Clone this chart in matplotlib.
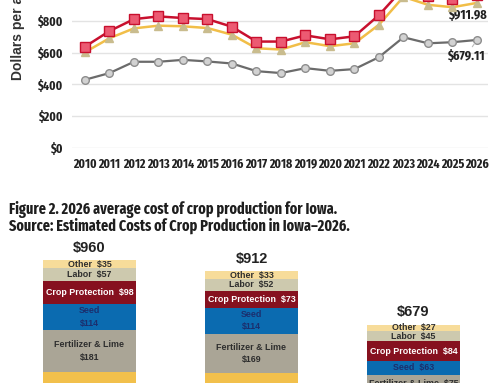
import matplotlib
matplotlib.use('Agg')
import matplotlib.pyplot as plt

# ======================
# DATA - FIGURE 1 (cost per acre, 2010-2026)
# ======================
years = list(range(2010, 2027))
corn_after_corn = [637, 735, 810, 827, 817, 810, 762, 669, 669, 708, 683, 702, 835, 1005, 955, 937, 960]
corn_after_soy = [602, 690, 752, 769, 765, 754, 712, 627, 619, 665, 640, 658, 775, 950, 900, 885, 911.98]
soy_after_corn = [429, 471, 542, 542, 554, 544, 531, 483, 471, 502, 485, 496, 571, 696, 658, 665, 679.11]
y_ticks = [0, 200, 400, 600, 800, 1000, 1200]

# ======================
# DATA - FIGURE 2 (2026 cost breakdown)
# ======================
crops = ['Corn following corn', 'Corn following soybeans', 'Soybeans following corn']
totals = [960, 912, 679]
land = [274, 274, 274]
machinery = [201, 197, 111]
fertilizer = [181, 169, 75]
seed = [114, 114, 63]
crop_protection = [98, 73, 84]
labor = [57, 52, 45]
other = [35, 33, 27]

W, H = 500, 383
fig = plt.figure(figsize=(W / 100, H / 100), dpi=100)

narrow = ['Fira Sans Extra Condensed', 'Fira Sans Condensed', 'DejaVu Sans']
sans = ['Liberation Sans', 'DejaVu Sans']

# ======================
# LINE CHART (top, cropped)
# ======================
ax1 = fig.add_axes([72 / W, (H - 148) / H, 416 / W, 1200 * 0.1591 / H])

ax1.plot(years, soy_after_corn, color='#6b6b6b', linewidth=1.6, marker='o',
         markersize=5.5, markerfacecolor='#d2d2d2', markeredgecolor='#8d8d8d',
         markeredgewidth=1, zorder=3)
ax1.plot(years, corn_after_soy, color='#f1be48', linewidth=1.8, marker='^',
         markersize=6, markerfacecolor='#c9bc8e', markeredgecolor='#c9bc8e',
         zorder=4)
ax1.plot(years, corn_after_corn, color='#c8102e', linewidth=1.8, marker='s',
         markersize=6.5, markerfacecolor='#ec5a72', markeredgecolor='#c8102e',
         markeredgewidth=1, zorder=5)

ax1.set_xlim(2009.47, 2026.45)
ax1.set_ylim(0, 1200)
ax1.set_xticks(years)
ax1.set_yticks(y_ticks)
ax1.set_yticklabels(['$' + format(v, ',') for v in y_ticks])
ax1.grid(axis='y', color='#e3e3e3', linewidth=1)
ax1.set_axisbelow(True)
for s in ax1.spines.values():
    s.set_visible(False)
ax1.tick_params(length=0, pad=7, labelcolor='#222222')
for lab in ax1.get_xticklabels() + ax1.get_yticklabels():
    lab.set_family(narrow)
    lab.set_fontweight('bold')
    lab.set_fontsize(9.3)

ax1.annotate('$911.98', xy=(2026, corn_after_soy[-1]), xytext=(2025.63, 836),
             ha='center', va='center', fontsize=9.6, family=narrow,
             fontweight='bold', color='#222222')
ax1.annotate('$679.11', xy=(2026, soy_after_corn[-1]), xytext=(2025.55, 578),
             ha='center', va='center', fontsize=9.6, family=narrow,
             fontweight='bold', color='#222222',
             arrowprops=dict(arrowstyle='-', color='#bbbbbb', lw=0.8,
                             shrinkA=6, shrinkB=3))

fig.text(18 / W, 1 - 80 / H, 'Dollars per acre', rotation=90, ha='center',
         va='bottom', fontsize=10, fontweight='bold', family=sans,
         color='#333333')

# ======================
# FIGURE 2 TITLE
# ======================
fig.text(9 / W, 1 - 210 / H, 'Figure 2. 2026 average cost of crop production for Iowa.',
         ha='left', va='center', fontsize=11.1, fontweight='bold',
         family=narrow, color='#1e1e1e')
fig.text(9 / W, 1 - 226 / H, 'Source: Estimated Costs of Crop Production in Iowa\u20132026.',
         ha='left', va='center', fontsize=11.1, fontweight='bold',
         family=narrow, color='#1e1e1e')

# ======================
# STACKED BARS (bottom, cropped)
# ======================
ax2 = fig.add_axes([8.5 / W, (H - 481) / H, 486 / W, 230 / H])
ax2.set_xlim(-0.5, 2.5)
ax2.set_ylim(0, 1000)
ax2.axis('off')

layers = [
    ('Land', land, '#5b5b5b', 'white'),
    ('Machinery', machinery, '#f2c04c', '#333333'),
    ('Fertilizer & Lime', fertilizer, '#aaa596', '#2e2e2e'),
    ('Seed', seed, '#0b6bb0', '#1b2f6e'),
    ('Crop Protection', crop_protection, '#86111f', 'white'),
    ('Labor', labor, '#cdc9ae', '#2e2e2e'),
    ('Other', other, '#f7dc9a', '#2e2e2e'),
]

x = list(range(len(crops)))
bottom = [0, 0, 0]
for name, vals, color, tcolor in layers:
    ax2.bar(x, vals, width=0.574, bottom=bottom, color=color, linewidth=0)
    if name not in ('Land', 'Machinery'):
        for i, v in enumerate(vals):
            if name in ('Seed', 'Fertilizer & Lime') and v >= 100:
                txt = name + '\n$' + str(v)
            else:
                txt = name + '  $' + str(v)
            ax2.text(i, bottom[i] + v / 2, txt, ha='center', va='center',
                     fontsize=6.4, family=sans, fontweight='bold',
                     color=tcolor, linespacing=1.45)
    bottom = [b + v for b, v in zip(bottom, vals)]

for i, t in enumerate(totals):
    ax2.annotate('$' + str(t), xy=(i, t), xytext=(0, 4), textcoords='offset points',
                 ha='center', va='bottom', fontsize=10.5, family=sans,
                 fontweight='bold', color='#222222')

plt.savefig('out.png', dpi=100)
